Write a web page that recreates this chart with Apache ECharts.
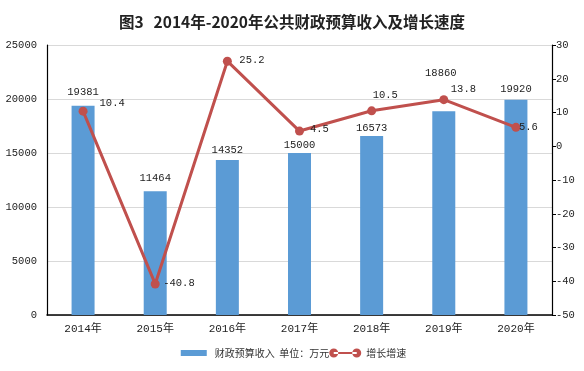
<!DOCTYPE html>
<html><head><meta charset="utf-8">
<script src="https://cdn.jsdelivr.net/npm/echarts@6/dist/echarts.min.js"></script>
<style>html,body{margin:0;padding:0;background:#fff}#c{width:584px;height:371px}</style>
</head><body><div id="c"></div>
<script>
var categories = ['2014年','2015年','2016年','2017年','2018年','2019年','2020年'];
var revenue = [19381, 11464, 14352, 15000, 16573, 18860, 19920];
var growth = [10.4, -40.8, 25.2, 4.5, 10.5, 13.8, 5.6];
var leftTicks = {min: 0, max: 25000, interval: 5000};
var rightTicks = {min: -50, max: 30, interval: 10};

// label placement (style only)
var barLabelOffsets = [[0,-4.5],[0,-3.5],[0,-0.5],[0,1.5],[0,1.5],[-3,-28.5],[0,-1.5]];
var lineLabelOffsets = [[12,-8],[3.5,-1],[7.5,-1],[6,-2],[-3.5,-16],[2.5,-10],[-1.5,0]];

var numFont = '"Liberation Mono", "Noto Sans CJK SC", monospace';
var cjkFont = '"Noto Sans CJK SC", sans-serif';

var barData = revenue.map(function (v, i) {
  return {value: v, label: {offset: barLabelOffsets[i]}};
});
var lineData = growth.map(function (v, i) {
  return {value: v, label: {offset: lineLabelOffsets[i]}};
});

var lineIcon = 'path://M0,4.5a4.5,4.5 0 1,0 9,0a4.5,4.5 0 1,0 -9,0Z M23,4.5a4.5,4.5 0 1,0 9,0a4.5,4.5 0 1,0 -9,0Z M4.5,3.5h23v2h-23Z';
var barIcon = 'path://M0,0 M32,9 M3,1.5h26v6h-26Z';
function plain(v) { return String(v); }

var chart = echarts.init(document.getElementById('c'));
chart.setOption({
  animation: false,
  title: {
    text: '{a|图3}{b|2014年-2020年公共财政预算收入及增长速度}',
    left: 'center', top: 9,
    textStyle: {
      rich: {
        a: {fontSize: 15.5, fontWeight: 'bold', color: '#222', fontFamily: cjkFont, padding: [0, 10, 0, 0]},
        b: {fontSize: 15.5, fontWeight: 'bold', color: '#222', fontFamily: cjkFont}
      }
    }
  },
  grid: {left: 47, right: 32, top: 45, bottom: 56},
  legend: {
    bottom: 8, left: 'center', itemGap: 0, itemWidth: 32, itemHeight: 9,
    textStyle: {fontSize: 10, color: '#333', fontFamily: cjkFont},
    data: [
      {name: '财政预算收入  单位：万元', icon: barIcon},
      {name: '增长增速', icon: lineIcon, itemStyle: {color: '#C0504D'}}
    ]
  },
  xAxis: {
    type: 'category', data: categories,
    axisLine: {lineStyle: {color: '#000', width: 1.5}},
    axisTick: {show: false},
    axisLabel: {color: '#222', fontSize: 11, margin: 9, fontFamily: numFont}
  },
  yAxis: [
    {
      type: 'value', min: leftTicks.min, max: leftTicks.max, interval: leftTicks.interval,
      axisLine: {show: true, lineStyle: {color: '#000', width: 1.2}},
      axisTick: {show: false},
      axisLabel: {color: '#222', fontSize: 10.5, margin: 10, fontFamily: numFont, formatter: plain},
      splitLine: {lineStyle: {color: '#d9d9d9'}}
    },
    {
      type: 'value', min: rightTicks.min, max: rightTicks.max, interval: rightTicks.interval,
      position: 'right',
      axisLine: {show: true, lineStyle: {color: '#000', width: 1.2}},
      axisTick: {show: true, inside: false, length: 4, lineStyle: {color: '#000'}},
      axisLabel: {color: '#222', fontSize: 10.5, margin: 4, fontFamily: numFont, formatter: plain},
      splitLine: {show: false}
    }
  ],
  series: [
    {
      name: '财政预算收入  单位：万元', type: 'bar', data: barData,
      barWidth: 23,
      itemStyle: {color: '#5B9BD5'},
      label: {show: true, position: 'top', distance: 4, color: '#222', fontSize: 10.5, fontFamily: numFont}
    },
    {
      name: '增长增速', type: 'line', yAxisIndex: 1, data: lineData,
      symbol: 'circle', symbolSize: 9,
      lineStyle: {color: '#C0504D', width: 3},
      itemStyle: {color: '#C0504D'},
      label: {show: true, position: 'right', distance: 0, color: '#222', fontSize: 10.5, fontFamily: numFont}
    }
  ]
});
</script></body></html>
